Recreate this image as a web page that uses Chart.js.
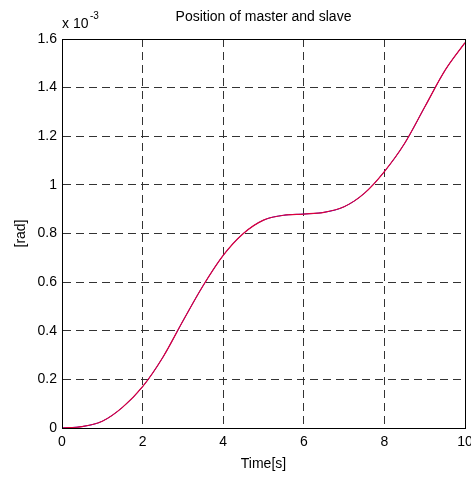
<!DOCTYPE html>
<html>
<head>
<meta charset="utf-8">
<script src="https://cdn.jsdelivr.net/npm/chart.js@4/dist/chart.umd.min.js"></script>
<style>
  body { margin: 0; background: #fff; }
  canvas { display: block; }
</style>
</head>
<body>
<canvas id="posChart" width="471" height="477"></canvas>
<script>
// time samples [s] and positions [rad x 1e-3]
const timeValues = [0, 0.5, 1, 1.5, 2, 2.5, 3, 3.5, 4, 4.5, 5, 5.5, 6, 6.5, 7, 7.5, 8, 8.5, 9, 9.5, 10];
const masterValues = [0, 0.006, 0.028, 0.085, 0.17, 0.29, 0.44, 0.585, 0.71, 0.80, 0.855, 0.875, 0.88, 0.887, 0.91, 0.965, 1.055, 1.17, 1.32, 1.47, 1.585];
const slaveValues = [0, 0.006, 0.028, 0.085, 0.17, 0.29, 0.44, 0.585, 0.71, 0.80, 0.855, 0.875, 0.88, 0.887, 0.91, 0.965, 1.055, 1.17, 1.32, 1.47, 1.585];
const xTicks = [0, 2, 4, 6, 8, 10];
const yTicks = [0, 0.2, 0.4, 0.6, 0.8, 1, 1.2, 1.4, 1.6];

const FONT = '"Liberation Sans", Arial, sans-serif';

function toPoints(xs, ys) {
  return xs.map((x, i) => ({ x: x, y: ys[i] }));
}

// draws the axes box, title, exponent and axis labels like a MATLAB figure
const matlabFrame = {
  id: 'matlabFrame',
  afterDraw(chart) {
    const ctx = chart.ctx;
    const a = chart.chartArea;
    ctx.save();
    ctx.strokeStyle = '#000';
    ctx.lineWidth = 1;
    ctx.strokeRect(Math.round(a.left) + 0.5, Math.round(a.top) + 0.5,
      Math.round(a.right - a.left), Math.round(a.bottom - a.top));

    ctx.fillStyle = '#000';
    ctx.textAlign = 'center';
    ctx.textBaseline = 'middle';
    ctx.font = '14px ' + FONT;
    ctx.fillText('Position of master and slave', (a.left + a.right) / 2, 17);

    // exponent label
    ctx.textAlign = 'left';
    ctx.font = '14px ' + FONT;
    ctx.fillText('x 10', a.left, 24);
    ctx.font = '10px ' + FONT;
    ctx.fillText('-3', a.left + 28, 16);

    ctx.textAlign = 'center';
    ctx.font = '14px ' + FONT;
    ctx.fillText('Time[s]', (a.left + a.right) / 2, 464);

    ctx.translate(21, (a.top + a.bottom) / 2);
    ctx.rotate(-Math.PI / 2);
    ctx.fillText('[rad]', 0, 0);
    ctx.restore();
  }
};

function renderPositionChart() {
  const ctx = document.getElementById('posChart').getContext('2d');

  const gridStyle = {
    color: '#333',
    lineWidth: 1,
    drawTicks: false
  };

  new Chart(ctx, {
    type: 'line',
    data: {
      datasets: [
        {
          label: 'master',
          data: toPoints(timeValues, masterValues),
          borderColor: 'rgb(40, 0, 200)',
          borderWidth: 1,
          pointRadius: 0,
          cubicInterpolationMode: 'monotone',
          order: 2
        },
        {
          label: 'slave',
          data: toPoints(timeValues, slaveValues),
          borderColor: 'rgb(220, 0, 60)',
          borderWidth: 1.2,
          pointRadius: 0,
          cubicInterpolationMode: 'monotone',
          order: 1
        }
      ]
    },
    options: {
      responsive: false,
      animation: false,
      layout: { padding: { top: 39, right: 6, left: 0, bottom: 0 } },
      plugins: {
        legend: { display: false },
        title: { display: false },
        tooltip: { enabled: false }
      },
      scales: {
        x: {
          type: 'linear',
          min: 0,
          max: 10,
          afterBuildTicks: (scale) => { scale.ticks = xTicks.map(v => ({ value: v })); },
          afterFit: (scale) => {
            scale.height = 49;
            scale.paddingLeft = 0;
            scale.paddingRight = 0;
          },
          grid: Object.assign({}, gridStyle),
          border: { display: true, color: '#000', dash: [8, 5] },
          ticks: {
            color: '#000',
            font: { family: FONT, size: 14 },
            padding: 6,
            maxRotation: 0
          }
        },
        y: {
          type: 'linear',
          min: 0,
          max: 1.6,
          afterBuildTicks: (scale) => { scale.ticks = yTicks.map(v => ({ value: v })); },
          afterFit: (scale) => {
            scale.width = 62;
            scale.paddingTop = 0;
            scale.paddingBottom = 0;
          },
          grid: Object.assign({}, gridStyle),
          border: { display: true, color: '#000', dash: [8, 5] },
          ticks: {
            color: '#000',
            font: { family: FONT, size: 14 },
            padding: 5,
            callback: (v) => String(Math.round(v * 10) / 10)
          }
        }
      }
    },
    plugins: [matlabFrame]
  });
}

document.addEventListener('DOMContentLoaded', function() {
  renderPositionChart();
});
</script>
</body>
</html>
